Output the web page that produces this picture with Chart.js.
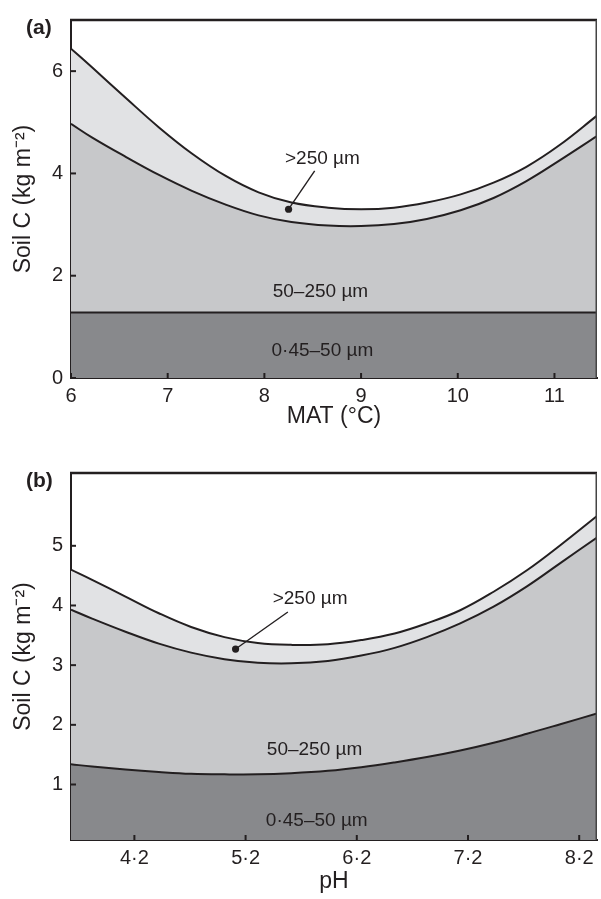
<!DOCTYPE html>
<html>
<head>
<meta charset="utf-8">
<script src="https://cdn.jsdelivr.net/npm/chart.js@4.4.1/dist/chart.umd.min.js"></script>
<style>
    body { margin: 0; background: #fff; }
    #wrap { position: relative; width: 601px; height: 899px; }
    canvas { position: absolute; left: 0; }
</style>
</head>
<body>
<div id="wrap">
    <canvas id="chartA" width="601" height="440" style="top:0"></canvas>
    <canvas id="chartB" width="601" height="459" style="top:440px"></canvas>
</div>
<script>
// Panel (a): soil C size fractions against mean annual temperature
const matX     = [6.0, 6.22, 6.57, 6.91, 7.25, 7.6, 7.94, 8.28, 8.66, 9.0, 9.34, 9.68, 10.03, 10.37, 10.71, 11.05, 11.44];
const matTotal = [6.44, 6.07, 5.47, 4.90, 4.39, 3.95, 3.63, 3.43, 3.33, 3.30, 3.33, 3.43, 3.59, 3.82, 4.13, 4.55, 5.13];
const matMid   = [4.97, 4.70, 4.32, 3.97, 3.66, 3.39, 3.18, 3.05, 2.98, 2.97, 3.01, 3.11, 3.28, 3.52, 3.85, 4.25, 4.73];
const matFine  = [1.28, 1.28, 1.28, 1.28, 1.28, 1.28, 1.28, 1.28, 1.28, 1.28, 1.28, 1.28, 1.28, 1.28, 1.28, 1.28, 1.28];
const matTicksX = [6, 7, 8, 9, 10, 11];
const matTicksY = [0, 2, 4, 6];

// Panel (b): the same fractions against soil pH
const phX     = [3.63, 3.82, 4.12, 4.42, 4.71, 5.01, 5.31, 5.61, 5.94, 6.24, 6.54, 6.83, 7.13, 7.43, 7.73, 8.03, 8.36];
const phTotal = [4.60, 4.43, 4.15, 3.87, 3.64, 3.47, 3.37, 3.34, 3.35, 3.42, 3.53, 3.70, 3.92, 4.23, 4.59, 5.01, 5.50];
const phMid   = [3.93, 3.78, 3.56, 3.36, 3.21, 3.10, 3.04, 3.03, 3.07, 3.16, 3.29, 3.47, 3.70, 3.98, 4.32, 4.71, 5.14];
const phFine  = [1.34, 1.30, 1.25, 1.21, 1.18, 1.17, 1.17, 1.19, 1.23, 1.29, 1.37, 1.46, 1.57, 1.70, 1.85, 2.01, 2.19];
const phTicksX = [4.2, 5.2, 6.2, 7.2, 8.2];
const phTicksY = [1, 2, 3, 4, 5];

const FONT = "'Liberation Sans', Arial, sans-serif";
const INK = '#231f20';

function toPoints(xs, ys) {
    return xs.map((x, i) => ({ x: x, y: ys[i] }));
}

// frame on top/right, inward tick marks, panel letter and band labels
function decorPlugin(letter, notes) {
    return {
        id: 'decor',
        afterDraw(chart) {
            const { ctx, chartArea: a, scales } = chart;
            ctx.save();
            ctx.strokeStyle = INK;
            ctx.lineWidth = 2.5;
            ctx.beginPath();
            ctx.moveTo(a.left - 1, a.top);
            ctx.lineTo(a.right, a.top);
            ctx.stroke();
            ctx.lineWidth = 1.5;
            ctx.strokeStyle = '#444';
            ctx.beginPath();
            ctx.moveTo(a.right - 0.75, a.top);
            ctx.lineTo(a.right - 0.75, a.bottom);
            ctx.stroke();

            ctx.strokeStyle = INK;
            ctx.lineWidth = 2;
            scales.x.ticks.forEach(t => {
                const px = scales.x.getPixelForValue(t.value);
                ctx.beginPath();
                ctx.moveTo(px, a.bottom);
                ctx.lineTo(px, a.bottom - 5);
                ctx.stroke();
            });
            scales.y.ticks.forEach(t => {
                const py = scales.y.getPixelForValue(t.value);
                ctx.beginPath();
                ctx.moveTo(a.left, py);
                ctx.lineTo(a.left + 5, py);
                ctx.stroke();
            });

            ctx.fillStyle = INK;
            ctx.font = 'bold 21px ' + FONT;
            ctx.textAlign = 'left';
            ctx.textBaseline = 'middle';
            ctx.fillText(letter, a.left - 45, a.top + 8);

            ctx.font = '19px ' + FONT;
            ctx.textAlign = 'center';
            notes.forEach(n => {
                ctx.fillText(n.text, scales.x.getPixelForValue(n.x), scales.y.getPixelForValue(n.y));
            });
            ctx.restore();
        }
    };
}

function bandSet(xs, ys, color, fill) {
    return {
        data: toPoints(xs, ys),
        borderColor: INK,
        borderWidth: 2,
        backgroundColor: color,
        fill: fill,
        pointRadius: 0,
        tension: 0.4
    };
}

function makePanel(canvasId, cfg) {
    const ctx = document.getElementById(canvasId).getContext('2d');
    return new Chart(ctx, {
        type: 'line',
        data: {
            datasets: [
                {   // leader line with dot
                    data: cfg.leader,
                    borderColor: INK,
                    borderWidth: 1.4,
                    pointRadius: [3.6, 0],
                    pointBackgroundColor: INK,
                    pointBorderWidth: 0,
                    fill: false,
                    tension: 0
                },
                bandSet(cfg.xs, cfg.fine, '#88898c', 'start'),
                bandSet(cfg.xs, cfg.mid, '#c7c8ca', '-1'),
                bandSet(cfg.xs, cfg.total, '#e1e2e4', '-1')
            ]
        },
        options: {
            responsive: false,
            animation: false,
            events: [],
            layout: { padding: { top: cfg.padTop, right: 1, left: 0, bottom: 0 } },
            plugins: { legend: { display: false }, tooltip: { enabled: false } },
            scales: {
                x: {
                    type: 'linear',
                    min: cfg.xMin,
                    max: cfg.xMax,
                    afterBuildTicks: s => { s.ticks = cfg.ticksX.map(v => ({ value: v })); },
                    afterFit: s => { s.height = cfg.xAxisH; },
                    grid: { display: false, tickLength: 0 },
                    border: { color: INK, width: 2 },
                    ticks: {
                        color: INK,
                        padding: 6,
                        maxRotation: 0,
                        font: { family: FONT, size: 20 },
                        callback: v => String(v).replace('.', '\u00b7')
                    },
                    title: {
                        display: true,
                        text: cfg.xTitle,
                        color: INK,
                        font: { family: FONT, size: 23 },
                        padding: { top: 0, bottom: cfg.xTitlePad }
                    }
                },
                y: {
                    type: 'linear',
                    min: cfg.yMin,
                    max: cfg.yMax,
                    afterBuildTicks: s => { s.ticks = cfg.ticksY.map(v => ({ value: v })); },
                    afterFit: s => { s.width = 71; },
                    grid: { display: false, tickLength: 0 },
                    border: { color: INK, width: 2 },
                    ticks: {
                        color: INK,
                        padding: 8,
                        font: { family: FONT, size: 20 }
                    },
                    title: {
                        display: true,
                        text: 'Soil C (kg m\u207b\u00b2)',
                        color: INK,
                        font: { family: FONT, size: 23 },
                        padding: { top: 10, bottom: 0 }
                    }
                }
            }
        },
        plugins: [decorPlugin(cfg.letter, cfg.notes)]
    });
}

makePanel('chartA', {
    xs: matX, total: matTotal, mid: matMid, fine: matFine,
    ticksX: matTicksX, ticksY: matTicksY,
    xMin: 6, xMax: 11.44, yMin: 0, yMax: 7,
    padTop: 12, xAxisH: 62, xTitlePad: 10,
    xTitle: 'MAT (\u00b0C)', letter: '(a)',
    leader: [{ x: 8.25, y: 3.30 }, { x: 8.52, y: 4.05 }],
    notes: [
        { text: '>250 \u00b5m', x: 8.6, y: 4.29 },
        { text: '50\u2013250 \u00b5m', x: 8.58, y: 1.68 },
        { text: '0\u00b745\u201350 \u00b5m', x: 8.6, y: 0.54 }
    ]
});

makePanel('chartB', {
    xs: phX, total: phTotal, mid: phMid, fine: phFine,
    ticksX: phTicksX, ticksY: phTicksY,
    xMin: 3.63, xMax: 8.36, yMin: 0.07, yMax: 6.22,
    padTop: 33, xAxisH: 59, xTitlePad: 4,
    xTitle: 'pH', letter: '(b)',
    leader: [{ x: 5.11, y: 3.27 }, { x: 5.58, y: 3.89 }],
    notes: [
        { text: '>250 \u00b5m', x: 5.78, y: 4.12 },
        { text: '50\u2013250 \u00b5m', x: 5.82, y: 1.59 },
        { text: '0\u00b745\u201350 \u00b5m', x: 5.84, y: 0.39 }
    ]
});
</script>
</body>
</html>
